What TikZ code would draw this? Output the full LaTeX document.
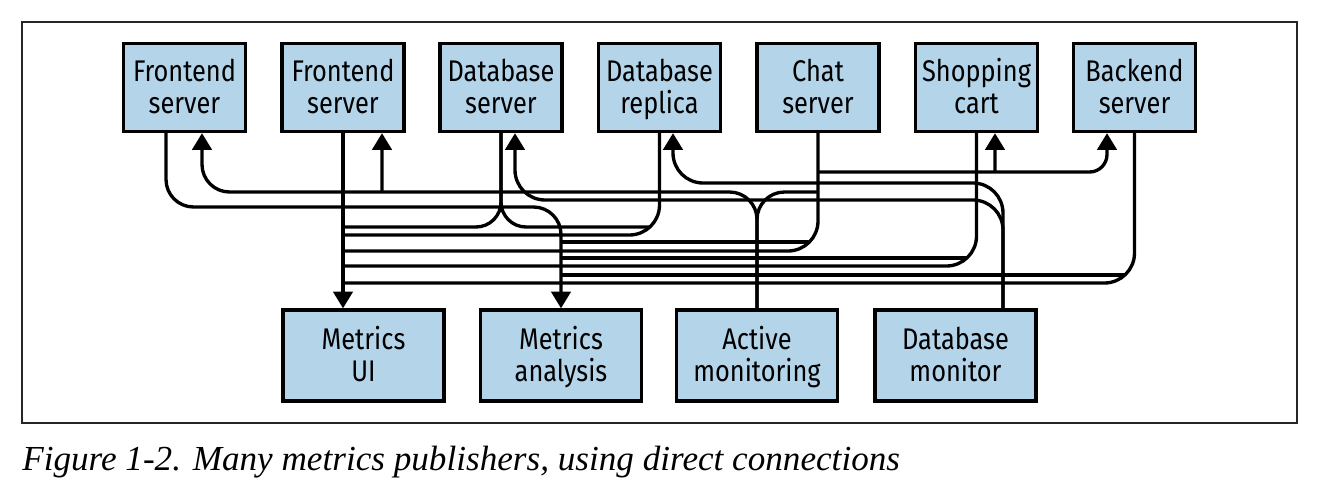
\documentclass[tikz,border=0pt]{standalone}
\usepackage{fontspec}
\setmainfont{Fira Sans}[FakeStretch=0.85]
\newfontfamily\capfont{Liberation Serif}
\usetikzlibrary{arrows.meta}
\definecolor{boxblue}{RGB}{180,212,234}
\newcommand\topy{87.5}
\newcommand\boty{355.5}

\begin{document}
\begin{tikzpicture}[x=0.02cm, y=-0.02cm,
    box/.style={draw, line width=1.9pt, fill=boxblue, minimum width=2.44cm, minimum height=1.76cm,
                inner sep=0pt, align=center, text height=29.7pt, text depth=0pt,
                font=\fontsize{17}{18}\selectfont},
    wide/.style={box, minimum width=3.22cm, minimum height=1.82cm},
    wire/.style={line width=1.9pt},
    arr/.style={-{Triangle[width=11pt,length=9.5pt]}}]

    \useasboundingbox (0,0) rectangle (1318,500);
    \draw[line width=0.8pt, black!85] (22,22) rectangle (1297,423);

    % Publishers
    \node at (184.5, \topy) [box] (fe1) {Frontend\\server};
    \node at (343, \topy) [box] (fe2) {Frontend\\server};
    \node at (501, \topy) [box] (dbs) {Database\\server};
    \node at (659.5, \topy) [box] (dbr) {Database\\replica};
    \node at (818, \topy) [box] (chat) {Chat\\server};
    \node at (976.5, \topy) [box] (cart) {Shopping\\cart};
    \node at (1134.5, \topy) [box] (back) {Backend\\server};

    % Consumers
    \node at (363.5, \boty) [wide] (mui) {Metrics\\UI};
    \node at (561, \boty) [wide] (mana) {Metrics\\analysis};
    \node at (757, \boty) [wide] (amon) {Active\\monitoring};
    \node at (955.5, \boty) [wide] (dbmon) {Database\\monitor};

    % Taps
    \coordinate (fe1o) at ([xshift=-0.37cm]fe1.south);
    \coordinate (fe1i) at ([xshift=0.35cm]fe1.south);
    \coordinate (fe2i) at ([xshift=0.78cm]fe2.south);
    \coordinate (dbsi) at ([xshift=0.28cm]dbs.south);
    \coordinate (dbri) at ([xshift=0.27cm]dbr.south);
    \coordinate (carti) at ([xshift=0.37cm]cart.south);
    \coordinate (backi) at ([xshift=-0.55cm]back.south);
    \coordinate (dbmo) at ([xshift=0.95cm]dbmon.north);

    % Metrics
    \draw[wire, arr] (fe2.south) -- (fe2.south |- mui.north);
    \draw[wire, arr, rounded corners=0.55cm] (fe1o) |- (561,207) -- (mana.north);
    \draw[wire, rounded corners=0.5cm] (dbs.south) |- (343,227);
    \draw[wire, rounded corners=0.5cm] (dbs.south) |- (650,227);
    \draw[wire, rounded corners=0.6cm] (dbr.south) |- (343,235);
    \draw[wire, rounded corners=0.6cm] (chat.south) |- (343,251);
    \draw[wire] (809,242) -- (561,242);
    \draw[wire, rounded corners=0.6cm] (cart.south) |- (343,266);
    \draw[wire] (967,258) -- (561,258);
    \draw[wire, rounded corners=0.6cm] (back.south) |- (343,283);
    \draw[wire] (1125,275) -- (561,275);

    % Active monitoring
    \draw[wire, arr, rounded corners=0.55cm] (amon.north) |- (202,192) -- (fe1i);
    \draw[wire, arr] (382,192) -- (fe2i);
    \draw[wire, rounded corners=0.55cm] (amon.north) |- (818,192);
    \draw[wire, arr, rounded corners=0.35cm] (818,172) -| (backi);
    \draw[wire, arr] (995,172) -- (carti);

    % Database monitor
    \draw[wire, arr, rounded corners=0.6cm] (dbmo) |- (515,200) -- (dbsi);
    \draw[wire, arr, rounded corners=0.6cm] (dbmo) |- (673,183) -- (dbri);

    \node[anchor=base west, inner sep=0pt, font=\capfont\itshape\fontsize{20}{24}\selectfont]
        (cap) at (22,470) {Figure 1-2. Many metrics publishers, using direct connections};

\end{tikzpicture}
\end{document}
